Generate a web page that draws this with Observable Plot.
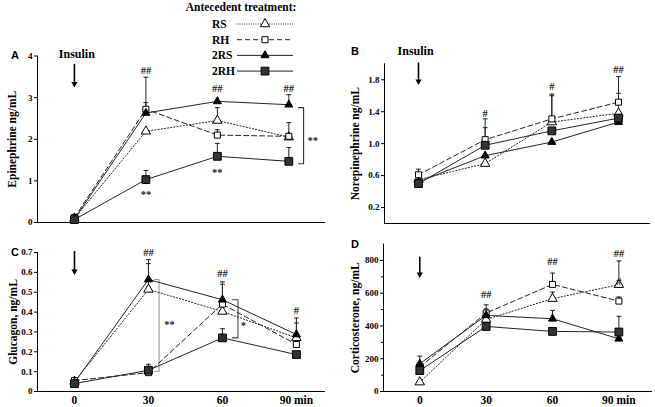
<!DOCTYPE html>
<html><head><meta charset="utf-8">
<script src="https://cdn.jsdelivr.net/npm/d3@7"></script>
<script src="https://cdn.jsdelivr.net/npm/@observablehq/plot@0.6"></script>
<style>
body{margin:0;background:#fff}
#fig{position:relative;width:655px;height:407px;overflow:hidden;background:#fff;font-family:"Liberation Serif",serif;font-weight:bold}
.p{position:absolute;overflow:visible}
.lt{position:absolute;font-family:"Liberation Sans",Arial,sans-serif;font-weight:bold;font-size:11px;line-height:11px;z-index:5}
</style></head><body><div id="fig"></div>
<script>
// ---------- data ----------
const times = [0, 30, 60, 90];
const groups = ["RS", "RH", "2RS", "2RH"];
const xTickLabels = ["0", "30", "60", "90 min"];

// A: Epinephrine (ng/mL), means and upper SEM
const epiRS  = [0.10, 2.19, 2.45, 2.05];
const epiRH  = [0.12, 2.72, 2.10, 2.07];
const epi2RS = [0.08, 2.63, 2.91, 2.83];
const epi2RH = [0.07, 1.03, 1.59, 1.47];
const epiRSsem  = [0, 0, 0.31, 0];
const epiRHsem  = [0, 0.77, 0.13, 0.33];
const epi2RSsem = [0, 0.25, 0, 0.24];
const epi2RHsem = [0, 0.22, 0.31, 0.33];

// B: Norepinephrine (ng/mL)
const neRS  = [0.55, 0.75, 1.27, 1.38];
const neRH  = [0.61, 1.05, 1.31, 1.52];
const ne2RS = [0.52, 0.85, 1.02, 1.27];
const ne2RH = [0.50, 0.98, 1.16, 1.32];
const neRSsem  = [0, 0, 0.33, 0.25];
const neRHsem  = [0.07, 0.26, 0.31, 0.32];
const ne2RSsem = [0, 0, 0, 0];
const ne2RHsem = [0, 0.22, 0, 0];

// C: Glucagon (ng/mL)
const gluRS  = [0.050, 0.514, 0.403, 0.270];
const gluRH  = [0.055, 0.095, 0.440, 0.237];
const glu2RS = [0.045, 0.564, 0.462, 0.287];
const glu2RH = [0.040, 0.107, 0.270, 0.186];
const gluRSsem  = [0, 0.13, 0, 0.075];
const gluRHsem  = [0, 0, 0.10, 0];
const glu2RSsem = [0, 0.10, 0.09, 0.083];
const glu2RHsem = [0, 0.03, 0.046, 0];

// D: Corticosterone (ng/mL)
const corRS  = [57, 440, 567, 652];
const corRH  = [150, 479, 654, 552];
const cor2RS = [169, 465, 444, 322];
const cor2RH = [128, 397, 367, 363];
const corRSsem  = [0, 0, 40, 145];
const corRHsem  = [0, 50, 69, 25];
const cor2RSsem = [47, 40, 51, 0];
const cor2RHsem = [0, 0, 0, 96];

// annotations (data coordinates)
const notesA = [{x:30,y:3.65,t:"##"},{x:60,y:3.22,t:"##"},{x:90,y:3.22,t:"##"},{x:30,y:0.66,t:"**"},{x:60,y:1.21,t:"**"},{x:100,y:1.96,t:"**"}];
const notesB = [{x:30,y:1.38,t:"#"},{x:60,y:1.71,t:"#"},{x:90,y:1.93,t:"##"}];
const notesC = [{x:30,y:0.70,t:"##"},{x:60,y:0.593,t:"##"},{x:90,y:0.405,t:"#"},{x:38.5,y:0.335,t:"**"},{x:68.5,y:0.333,t:"*"}];
const notesD = [{x:30,y:592,t:"##"},{x:60,y:794,t:"##"},{x:90,y:843,t:"##"},{x:90,y:672,t:"#"}];
const bracketsA = [{x:96.2, dx:2.1, y1:2.76, y2:1.41, c:"#333"}];
const bracketsC = [{x:34.3, dx:1.9, y1:0.564, y2:0.102, c:"#999"},{x:66.3, dx:2.3, y1:0.462, y2:0.27, c:"#444"}];

// ---------- styling ----------
const gStyle = {
  "RS":  {dash:"1.2,2", symbol:"triangle", fill:"#fff", r:3.5},
  "RH":  {dash:"5,3",   symbol:"square",   fill:"#fff", r:3.4},
  "2RS": {dash:null,    symbol:"triangle", fill:"#000", r:3.0},
  "2RH": {dash:null,    symbol:"square",   fill:"#333", r:4.4}
};
const capSymbol = {draw(ctx, size){ const w = Math.sqrt(size/Math.PI); ctx.moveTo(-w,0); ctx.lineTo(w,0); }};
const fig = document.getElementById("fig");

function panel(cfg){
  const rows = groups.flatMap((g,i)=> times.map((t,j)=>({g, t, v:cfg.vals[i][j], e:cfg.sems[i][j]})));
  const errs = rows.filter(d=>d.e>0);
  const marks = [
    Plot.ruleY([cfg.ydom[0]], {stroke:"#000", strokeWidth:1}),
    Plot.ruleX([cfg.xdom[0]], {stroke:"#000", strokeWidth:1}),
    Plot.axisY({ticks:cfg.yticks, tickSize:3, tickPadding:2, fontSize:9, tickFormat:cfg.yfmt, label:null})
  ];
  if (cfg.yminor) marks.push(Plot.axisY({ticks:cfg.yminor, tickSize:2, tickFormat:()=>"", label:null}));
  if (cfg.xlabels) marks.push(Plot.axisX({ticks:times, tickSize:0, tickPadding:4, fontSize:11.5, tickFormat:(d)=>xTickLabels[times.indexOf(d)], label:null}));
  // brackets
  (cfg.brackets||[]).forEach(b=>{
    marks.push(Plot.line([{x:b.x-b.dx,y:b.y1},{x:b.x,y:b.y1},{x:b.x,y:b.y2},{x:b.x-b.dx,y:b.y2}], {x:"x", y:"y", stroke:b.c, strokeWidth:1.1}));
  });
  // lines
  groups.forEach(g=>{
    marks.push(Plot.line(rows.filter(d=>d.g===g), {x:"t", y:"v", stroke:"#222", strokeWidth:1, strokeDasharray:gStyle[g].dash||undefined}));
  });
  // error bars
  marks.push(Plot.ruleX(errs, {x:"t", y1:"v", y2:d=>d.v+d.e, stroke:"#222", strokeWidth:1}));
  marks.push(Plot.dot(errs, {x:"t", y:d=>d.v+d.e, symbol:capSymbol, r:2.4, stroke:"#222", fill:"none", strokeWidth:1}));
  // symbols
  groups.forEach(g=>{
    const s = gStyle[g];
    marks.push(Plot.dot(rows.filter(d=>d.g===g), {x:"t", y:"v", symbol:s.symbol, r:s.r, fill:s.fill, stroke:"#000", strokeWidth:1}));
  });
  // notes
  marks.push(Plot.text(cfg.notes, {x:"x", y:"y", text:"t", fontSize:10.5, fill:"#222"}));
  // insulin arrow
  marks.push(Plot.ruleX([cfg.arrow], {x:"x", y1:"y1", y2:"y2", stroke:"#000", strokeWidth:1.6}));
  marks.push(Plot.dot([cfg.arrow], {x:"x", y:"y2", symbol:"triangle", rotate:180, r:2.3, fill:"#000"}));
  if (cfg.insulin) marks.push(Plot.text([cfg.insulin], {x:"x", y:"y", text:()=>"Insulin", fontSize:12}));
  // y label
  marks.push(Plot.text([cfg.ylabel], {frameAnchor:"left", textAnchor:"middle", rotate:-90, dx:cfg.labelDx, fontSize:11.5}));

  const svg = Plot.plot({
    width:cfg.w, height:cfg.h,
    marginLeft:cfg.ml, marginRight:cfg.mr, marginTop:cfg.mt, marginBottom:cfg.mb,
    x:{domain:cfg.xdom, ...(cfg.xlabels?{}:{axis:null})},
    y:{domain:cfg.ydom},
    style:{background:"transparent", overflow:"visible", fontFamily:'"Liberation Serif", serif', fontWeight:"bold", fontSize:"9px", color:"#000"},
    marks
  });
  svg.classList.add("p");
  svg.style.left = cfg.left + "px";
  svg.style.top = cfg.top + "px";
  fig.appendChild(svg);
  const lt = document.createElement("div");
  lt.className = "lt"; lt.textContent = cfg.letter;
  lt.style.left = cfg.letterPos[0] + "px"; lt.style.top = cfg.letterPos[1] + "px";
  fig.appendChild(lt);
}

const fmtInt = d => String(d);
const fmt1 = d => d === 0 ? "0" : d.toFixed(1);

panel({letter:"A", letterPos:[11,50], left:0, top:0, w:330, h:230, ml:37, mr:5, mt:55.5, mb:8,
  xdom:[-15.5,105.4], ydom:[0,4], yticks:[0,1,2,3,4], yfmt:fmtInt,
  vals:[epiRS,epiRH,epi2RS,epi2RH], sems:[epiRSsem,epiRHsem,epi2RSsem,epi2RHsem],
  notes:notesA, brackets:bracketsA, arrow:{x:0,y1:3.8,y2:3.33}, insulin:{x:1,y:4.04},
  ylabel:"Epinephrine ng/mL", labelDx:-25});

panel({letter:"B", letterPos:[351,46], left:330, top:0, w:325, h:230, ml:54, mr:5, mt:63.3, mb:7,
  xdom:[-15.3,104.4], ydom:[0,2.0], yticks:[0.2,0.6,1.0,1.4,1.8], yfmt:d=>d.toFixed(1),
  vals:[neRS,neRH,ne2RS,ne2RH], sems:[neRSsem,neRHsem,ne2RSsem,ne2RHsem],
  notes:notesB, arrow:{x:0,y1:2.01,y2:1.78}, insulin:{x:-1.3,y:2.16},
  ylabel:"Norepinephrine ng/mL", labelDx:-29});

panel({letter:"C", letterPos:[11,247], left:0, top:230, w:330, h:177, ml:37, mr:5, mt:22, mb:16,
  xdom:[-15,101.8], ydom:[0,0.7], yticks:[0,0.1,0.2,0.3,0.4,0.5,0.6,0.7], yfmt:fmt1, xlabels:true,
  vals:[gluRS,gluRH,glu2RS,glu2RH], sems:[gluRSsem,gluRHsem,glu2RSsem,glu2RHsem],
  notes:notesC, brackets:bracketsC, arrow:{x:0,y1:0.705,y2:0.605},
  ylabel:"Glucagon, ng/mL", labelDx:-24});

panel({letter:"D", letterPos:[351,239], left:330, top:230, w:325, h:177, ml:53, mr:3, mt:13.6, mb:16,
  xdom:[-16.4,105.2], ydom:[0,900], yticks:[0,200,400,600,800], yfmt:fmtInt, yminor:[100,300,500,700], xlabels:true,
  vals:[corRS,corRH,cor2RS,cor2RH], sems:[corRSsem,corRHsem,cor2RSsem,cor2RHsem],
  notes:notesD, arrow:{x:0,y1:820,y2:715},
  ylabel:"Corticosterone, ng/mL", labelDx:-28});

// ---------- legend ----------
const lg = d3.select(fig).append("svg").attr("class","p").style("left","180px").style("top","0px")
  .attr("width",125).attr("height",80)
  .attr("font-family",'"Liberation Serif", serif').attr("font-weight","bold");
lg.append("text").attr("x",61).attr("y",7).attr("text-anchor","middle").attr("dy","0.35em")
  .attr("font-size",11.5).text("Antecedent treatment:");
groups.forEach((g,i)=>{
  const y = 24 + i*15.7, s = gStyle[g];
  lg.append("text").attr("x",32).attr("y",y).attr("dy","0.35em").attr("font-size",11.5).text(g);
  lg.append("line").attr("x1",57).attr("x2",113).attr("y1",y).attr("y2",y).attr("stroke","#222")
    .attr("stroke-width",1).attr("stroke-dasharray", g==="RS" ? "1,1.3" : (s.dash||null));
  lg.append("path").attr("transform",`translate(85,${y})`)
    .attr("d", d3.symbol(s.symbol==="square"?d3.symbolSquare:d3.symbolTriangle, s.r*s.r*Math.PI)())
    .attr("fill", s.fill).attr("stroke","#000").attr("stroke-width",1);
});
</script></body></html>
